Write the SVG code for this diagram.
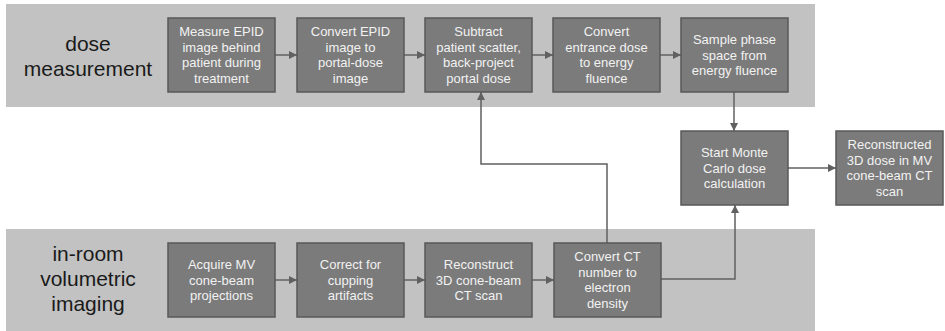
<svg xmlns="http://www.w3.org/2000/svg" width="945" height="331" viewBox="0 0 945 331">
<style>
.band{fill:#c2c2c2}
.box{fill:#7b7b7b;stroke:#585858;stroke-width:1.5}
.t{font-family:"Liberation Sans",Arial,sans-serif;font-size:13px;fill:#f2f2f2;text-anchor:middle}
.lab{font-family:"Liberation Sans",Arial,sans-serif;font-size:21px;fill:#1a1a1a;text-anchor:middle}
.c{fill:none;stroke:#606060;stroke-width:1.5;marker-end:url(#ah)}
</style>
<defs>
<marker id="ah" viewBox="0 0 10 10" refX="10" refY="5" markerWidth="8" markerHeight="8" markerUnits="userSpaceOnUse" orient="auto">
<path d="M0,0 L10,5 L0,10 z" fill="#606060"/>
</marker>
</defs>
<rect class="band" x="6" y="4" width="809" height="103"/>
<rect class="band" x="6" y="229" width="809" height="102"/>
<text class="lab" x="88" y="51">dose</text>
<text class="lab" x="88" y="76">measurement</text>
<text class="lab" x="88" y="261">in-room</text>
<text class="lab" x="88" y="286">volumetric</text>
<text class="lab" x="88" y="311">imaging</text>

<g id="connectors">
<path class="c" d="M275,55 H297"/>
<path class="c" d="M404,55 H425"/>
<path class="c" d="M532,55 H553"/>
<path class="c" d="M660,55 H681"/>
<path class="c" d="M734,92 V131"/>
<path class="c" d="M788,168 H836"/>
<path class="c" d="M275,280 H297"/>
<path class="c" d="M404,280 H425"/>
<path class="c" d="M532,280 H554"/>
<path class="c" d="M607,243 V164 H481 V92"/>
<path class="c" d="M661,279 H735 V205"/>
</g>

<g id="n1"><rect class="box" x="168" y="18" width="107" height="74"/>
<text class="t" x="221.5"><tspan x="221.5" y="36">Measure EPID</tspan><tspan x="221.5" y="51.6">image behind</tspan><tspan x="221.5" y="67.2">patient during</tspan><tspan x="221.5" y="82.8">treatment</tspan></text></g>
<g id="n2"><rect class="box" x="297" y="18" width="107" height="74"/>
<text class="t" x="350.5"><tspan x="350.5" y="36">Convert EPID</tspan><tspan x="350.5" y="51.6">image to</tspan><tspan x="350.5" y="67.2">portal-dose</tspan><tspan x="350.5" y="82.8">image</tspan></text></g>
<g id="n3"><rect class="box" x="425" y="18" width="107" height="74"/>
<text class="t" x="478.5"><tspan x="478.5" y="36">Subtract</tspan><tspan x="478.5" y="51.6">patient scatter,</tspan><tspan x="478.5" y="67.2">back-project</tspan><tspan x="478.5" y="82.8">portal dose</tspan></text></g>
<g id="n4"><rect class="box" x="553" y="18" width="107" height="74"/>
<text class="t" x="606.5"><tspan x="606.5" y="36">Convert</tspan><tspan x="606.5" y="51.6">entrance dose</tspan><tspan x="606.5" y="67.2">to energy</tspan><tspan x="606.5" y="82.8">fluence</tspan></text></g>
<g id="n5"><rect class="box" x="681" y="18" width="107" height="74"/>
<text class="t" x="734.5"><tspan x="734.5" y="44">Sample phase</tspan><tspan x="734.5" y="59.6">space from</tspan><tspan x="734.5" y="75.2">energy fluence</tspan></text></g>
<g id="n6"><rect class="box" x="681" y="131" width="107" height="74"/>
<text class="t" x="734.5"><tspan x="734.5" y="157">Start Monte</tspan><tspan x="734.5" y="172.6">Carlo dose</tspan><tspan x="734.5" y="188.2">calculation</tspan></text></g>
<g id="n7"><rect class="box" x="836" y="131" width="107" height="74"/>
<text class="t" x="889.5"><tspan x="889.5" y="149">Reconstructed</tspan><tspan x="889.5" y="164.6">3D dose in MV</tspan><tspan x="889.5" y="180.2">cone-beam CT</tspan><tspan x="889.5" y="195.8">scan</tspan></text></g>
<g id="n8"><rect class="box" x="168" y="243" width="107" height="74"/>
<text class="t" x="221.5"><tspan x="221.5" y="269">Acquire MV</tspan><tspan x="221.5" y="284.6">cone-beam</tspan><tspan x="221.5" y="300.2">projections</tspan></text></g>
<g id="n9"><rect class="box" x="297" y="243" width="107" height="74"/>
<text class="t" x="350.5"><tspan x="350.5" y="269">Correct for</tspan><tspan x="350.5" y="284.6">cupping</tspan><tspan x="350.5" y="300.2">artifacts</tspan></text></g>
<g id="n10"><rect class="box" x="425" y="243" width="107" height="74"/>
<text class="t" x="478.5"><tspan x="478.5" y="269">Reconstruct</tspan><tspan x="478.5" y="284.6">3D cone-beam</tspan><tspan x="478.5" y="300.2">CT scan</tspan></text></g>
<g id="n11"><rect class="box" x="554" y="243" width="107" height="74"/>
<text class="t" x="607.5"><tspan x="607.5" y="261">Convert CT</tspan><tspan x="607.5" y="276.6">number to</tspan><tspan x="607.5" y="292.2">electron</tspan><tspan x="607.5" y="307.8">density</tspan></text></g>
</svg>
